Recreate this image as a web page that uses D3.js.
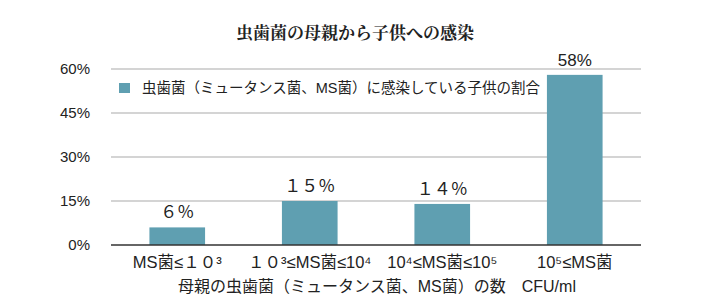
<!DOCTYPE html>
<html>
<head>
<meta charset="utf-8">
<script src="https://cdn.jsdelivr.net/npm/d3@7"></script>
<style>
  body { margin: 0; background: #fff; }
  text { font-family: "Liberation Sans", "Noto Sans CJK JP", sans-serif; fill: #222; }
</style>
</head>
<body>
<div id="chart"></div>
<script>
var categories = ["MS菌≤１０³", "１０³≤MS菌≤10⁴", "10⁴≤MS菌≤10⁵", "10⁵≤MS菌"];
var values = [6, 15, 14, 58];
var valueLabels = ["６％", "１５％", "１４％", "58%"];
var yTicks = [0, 15, 30, 45, 60];
var seriesName = "虫歯菌（ミュータンス菌、MS菌）に感染している子供の割合";
var title = "虫歯菌の母親から子供への感染";
var xTitle = "母親の虫歯菌（ミュータンス菌、MS菌）の数　CFU/ml";

var width = 720;
var height = 301;
var plotLeft = 111, plotRight = 641, plotTop = 69, plotBottom = 245;
var barColor = "#5f9fb1";

var svg = d3.select("#chart")
    .append("svg")
    .attr("width", width)
    .attr("height", height);

var x = d3.scaleBand().domain(categories).range([plotLeft, plotRight]).paddingInner(0.58).paddingOuter(0.29);
var y = d3.scaleLinear().domain([0, 60]).range([plotBottom, plotTop]);

// title
svg.append("text")
    .attr("x", 355)
    .attr("y", 39)
    .attr("text-anchor", "middle")
    .style("font-family", "'Noto Serif CJK JP', 'Noto Sans CJK JP', serif")
    .style("font-weight", "bold")
    .style("font-size", "17px")
    .text(title);

// grid lines
svg.selectAll("line.grid")
    .data(yTicks.filter(function (d) { return d > 0; }))
    .enter().append("line")
    .attr("class", "grid")
    .attr("x1", plotLeft)
    .attr("x2", plotRight)
    .attr("y1", function (d) { return y(d); })
    .attr("y2", function (d) { return y(d); })
    .attr("stroke", "#c6c6c6")
    .attr("stroke-width", 1.5);

// y labels
svg.selectAll("text.ylab")
    .data(yTicks)
    .enter().append("text")
    .attr("class", "ylab")
    .attr("x", 90)
    .attr("y", function (d) { return y(d) + 5; })
    .attr("text-anchor", "end")
    .style("font-size", "15px")
    .text(function (d) { return d + "%"; });

// bars
svg.selectAll("rect.bar")
    .data(values)
    .enter().append("rect")
    .attr("class", "bar")
    .attr("x", function (d, i) { return x(categories[i]); })
    .attr("y", function (d) { return y(d); })
    .attr("width", x.bandwidth())
    .attr("height", function (d) { return plotBottom - y(d); })
    .attr("fill", barColor);

// baseline
svg.append("line")
    .attr("x1", plotLeft)
    .attr("x2", plotRight)
    .attr("y1", plotBottom)
    .attr("y2", plotBottom)
    .attr("stroke", "#333")
    .attr("stroke-width", 1.5);

// value labels
svg.selectAll("text.vlab")
    .data(values)
    .enter().append("text")
    .attr("class", "vlab")
    .attr("x", function (d, i) { return x(categories[i]) + x.bandwidth() / 2; })
    .attr("y", function (d) { return y(d) - 9; })
    .attr("text-anchor", "middle")
    .style("font-size", "17px")
    .text(function (d, i) { return valueLabels[i]; });

// x labels
svg.selectAll("text.xlab")
    .data(categories)
    .enter().append("text")
    .attr("class", "xlab")
    .attr("x", function (d) { return x(d) + x.bandwidth() / 2; })
    .attr("y", 268)
    .attr("text-anchor", "middle")
    .style("font-size", "16.5px")
    .text(String);

// x title
svg.append("text")
    .attr("x", 377)
    .attr("y", 292)
    .attr("text-anchor", "middle")
    .style("font-size", "16px")
    .text(xTitle);

// legend
var legend = svg.append("g").attr("transform", "translate(119,83)");
legend.append("rect")
    .attr("width", 11)
    .attr("height", 10)
    .attr("fill", barColor);
legend.append("text")
    .attr("x", 23)
    .attr("y", 10)
    .style("font-size", "14.5px")
    .text(seriesName);
</script>
</body>
</html>
